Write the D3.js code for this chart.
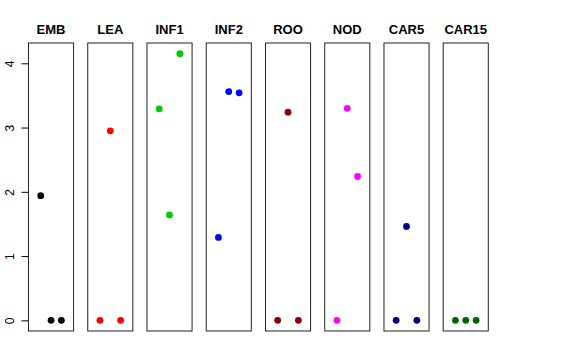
<!DOCTYPE html>
<html>
<head>
<meta charset="utf-8">
<script src="https://cdn.jsdelivr.net/npm/d3@7"></script>
<style>
  body { margin: 0; background: #fff; }
  svg { display: block; font-family: "Liberation Sans", Arial, sans-serif; }
</style>
</head>
<body>
<svg id="chart" width="576" height="360"></svg>
<script>
// panels (tissues) and their point colours
const panels = ["EMB", "LEA", "INF1", "INF2", "ROO", "NOD", "CAR5", "CAR15"];
const colors = ["#000000", "#ff0000", "#00cd00", "#0000ff", "#8b0000", "#ff00ff", "#000080", "#006400"];

// three values per panel, drawn at x = 1, 2, 3
const values = [
  [1.94, 0, 0],
  [0, 2.95, 0],
  [3.29, 1.64, 4.15],
  [1.29, 3.56, 3.54],
  [0, 3.24, 0],
  [0, 3.30, 2.24],
  [0, 1.46, 0],
  [0, 0, 0]
];
const yTicks = [0, 1, 2, 3, 4];

const svg = d3.select("#chart");
const plotTop = 43, plotBottom = 331;

// panel placement
const xBand = d3.scaleBand()
  .domain(panels)
  .range([28.5, 488.3])
  .paddingInner(0.239)
  .paddingOuter(0);

// shared y scale, R style 4% padding
const yMax = d3.max(values.flat());
const yPad = yMax * 0.04;
const y = d3.scaleLinear()
  .domain([-yPad, yMax + yPad])
  .range([plotBottom, plotTop]);

// x inside one panel
const xIn = d3.scaleLinear()
  .domain([-0.18, 4.18])
  .range([0, xBand.bandwidth()]);

// y axis on first panel only
const yAxis = d3.axisLeft(y).tickValues(yTicks).tickSize(7).tickFormat(d3.format("d"));
const ax = svg.append("g")
  .attr("transform", "translate(" + (xBand("EMB")) + ",0)")
  .call(yAxis);
ax.select(".domain").remove();
ax.selectAll(".tick line").attr("stroke", "#000");
ax.selectAll(".tick text")
  .attr("font-size", 12)
  .attr("fill", "#000")
  .attr("x", 0)
  .attr("dy", 0)
  .attr("text-anchor", "middle")
  .attr("transform", "translate(-19,0) rotate(-90)")
  .attr("dominant-baseline", "central");

const panelG = svg.selectAll("g.panel")
  .data(panels)
  .enter()
  .append("g")
  .attr("class", "panel")
  .attr("transform", function(d) { return "translate(" + xBand(d) + ",0)"; });

panelG.append("rect")
  .attr("x", 0)
  .attr("y", plotTop)
  .attr("width", xBand.bandwidth())
  .attr("height", plotBottom - plotTop)
  .attr("fill", "none")
  .attr("stroke", "#222")
  .attr("stroke-width", 1);

panelG.append("text")
  .attr("x", xBand.bandwidth() / 2)
  .attr("y", 34)
  .attr("text-anchor", "middle")
  .attr("font-weight", "bold")
  .attr("font-size", 13)
  .text(function(d) { return d; });

panelG.each(function(d, i) {
  d3.select(this).selectAll("circle")
    .data(values[i])
    .enter()
    .append("circle")
    .attr("cx", function(v, j) { return xIn(j + 1); })
    .attr("cy", function(v) { return y(v); })
    .attr("r", 3.4)
    .attr("fill", colors[i]);
});
</script>
</body>
</html>
